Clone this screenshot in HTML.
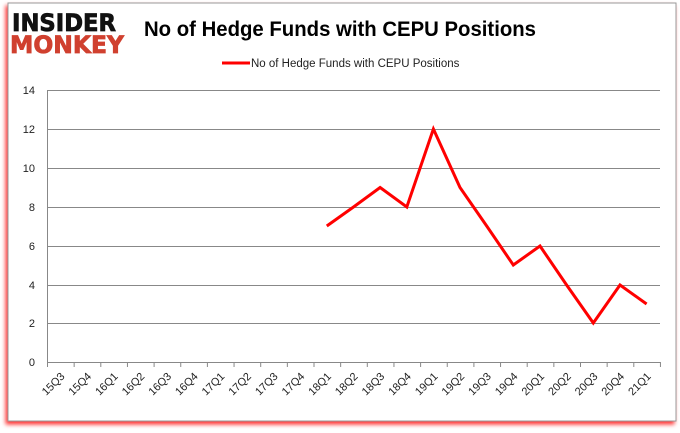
<!DOCTYPE html>
<html><head><style>body{margin:0;background:#fff}svg{display:block}</style></head><body>
<svg width="680" height="433" xmlns="http://www.w3.org/2000/svg" font-family="Liberation Sans, sans-serif">
<defs><filter id="sh" x="-5%" y="-5%" width="110%" height="110%"><feDropShadow dx="-2" dy="3" stdDeviation="2" flood-color="#f00" flood-opacity="0.8"/></filter></defs>
<rect x="8" y="3" width="668" height="418" fill="#fff" stroke="#999" stroke-width="1" filter="url(#sh)"/>
<text x="12" y="31" font-size="24" font-weight="bold" fill="#111" stroke="#111" stroke-width="0.8" font-family="DejaVu Sans, sans-serif" textLength="104" lengthAdjust="spacingAndGlyphs">INSIDER</text>
<text x="10" y="53" font-size="24" font-weight="bold" fill="#d0402f" stroke="#d0402f" stroke-width="0.8" font-family="DejaVu Sans, sans-serif" textLength="114" lengthAdjust="spacingAndGlyphs">MONKEY</text>
<text x="144" y="36" font-size="21" font-weight="bold" fill="#000" textLength="392" lengthAdjust="spacingAndGlyphs">No of Hedge Funds with CEPU Positions</text>
<line x1="222" y1="63" x2="250" y2="63" stroke="#f00" stroke-width="3"/>
<text x="251" y="67" font-size="11.5" fill="#222">No of Hedge Funds with CEPU Positions</text>
<g stroke="#888" stroke-width="1">
<line x1="47" y1="90.5" x2="660" y2="90.5"/><line x1="47" y1="129.5" x2="660" y2="129.5"/><line x1="47" y1="168.5" x2="660" y2="168.5"/><line x1="47" y1="207.5" x2="660" y2="207.5"/><line x1="47" y1="246.5" x2="660" y2="246.5"/><line x1="47" y1="285.5" x2="660" y2="285.5"/><line x1="47" y1="323.5" x2="660" y2="323.5"/><line x1="47" y1="362.5" x2="660" y2="362.5"/>
<line x1="47.5" y1="90" x2="47.5" y2="362"/>
</g>
<g font-size="11" fill="#222" text-anchor="end">
<text x="35" y="94">14</text><text x="35" y="133">12</text><text x="35" y="172">10</text><text x="35" y="211">8</text><text x="35" y="250">6</text><text x="35" y="289">4</text><text x="35" y="327">2</text><text x="35" y="366">0</text>
</g>
<g id="ticks" stroke="#888"></g>
<g id="labs" font-size="11" fill="#222" text-anchor="end"></g>
<polyline fill="none" stroke="#f00" stroke-width="3" stroke-linejoin="miter" points="326.8,226 353.5,207 380.1,187.5 406.8,207 433.4,129 460,187.5 486.7,226 513.3,265 540,246 566.6,285 593.3,323 620,285 646.6,304"/>
<script>
var L=["15Q3","15Q4","16Q1","16Q2","16Q3","16Q4","17Q1","17Q2","17Q3","17Q4","18Q1","18Q2","18Q3","18Q4","19Q1","19Q2","19Q3","19Q4","20Q1","20Q2","20Q3","20Q4","21Q1"];
var t=document.getElementById("ticks"),l=document.getElementById("labs"),ns="http://www.w3.org/2000/svg";
for(var i=0;i<=23;i++){var x=47.5+26.65*i;var e=document.createElementNS(ns,"line");e.setAttribute("x1",x);e.setAttribute("x2",x);e.setAttribute("y1",362);e.setAttribute("y2",367);t.appendChild(e);}
for(var i=0;i<23;i++){var x=47+26.65*(i+0.5)+5,y=377;var e=document.createElementNS(ns,"text");e.setAttribute("x",x);e.setAttribute("y",y);e.setAttribute("transform","rotate(-45 "+x+" "+y+")");e.textContent=L[i];l.appendChild(e);}
</script>
</svg>
</body></html>
